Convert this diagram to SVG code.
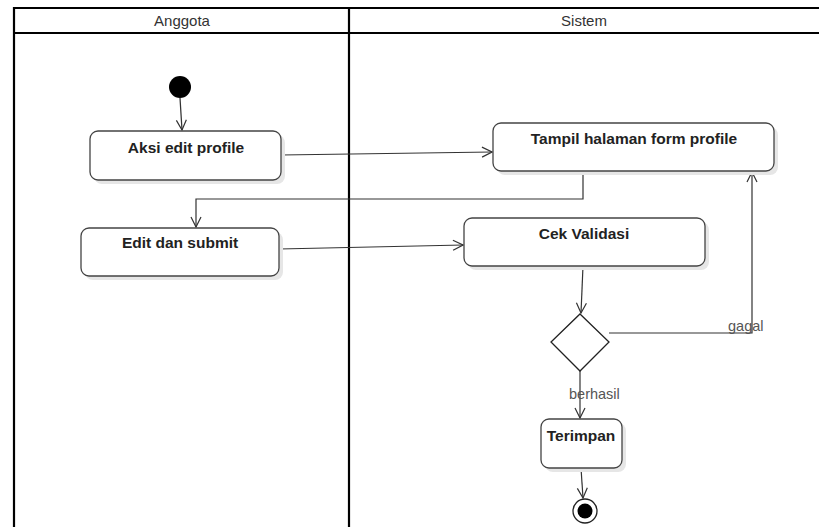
<svg xmlns="http://www.w3.org/2000/svg" width="819" height="527" viewBox="0 0 819 527">
<style>
.lane{fill:none;stroke:#000;stroke-width:2.2}
.hdr{font-family:"Liberation Sans",Arial,sans-serif;font-size:15px;fill:#333;text-anchor:middle}
.box{fill:#fff;stroke:#444;stroke-width:1.3}
.shd{fill:#e6e6e6}
.lbl{font-family:"Liberation Sans",Arial,sans-serif;font-size:15.5px;font-weight:bold;fill:#222;text-anchor:middle}
.edge{fill:none;stroke:#333;stroke-width:1.2}
.elbl{font-family:"Liberation Sans",Arial,sans-serif;font-size:14.5px;fill:#555}
</style>
<defs>
<marker id="arr" viewBox="0 0 12 12" refX="11" refY="6" markerWidth="12" markerHeight="12" markerUnits="userSpaceOnUse" orient="auto">
<path d="M1,1 L11,6 L1,11" fill="none" stroke="#333" stroke-width="1.2"/>
</marker>
</defs>
<rect width="819" height="527" fill="#fff"/>
<g id="lanes">
<path class="lane" d="M14,527 L14,8 L819,8 M14,33 L819,33 M349,8 L349,527"/>
<text class="hdr" x="182" y="26">Anggota</text>
<text class="hdr" x="584" y="26">Sistem</text>
</g>
<g id="connectors">
<path class="edge" d="M180,98 L182,130" marker-end="url(#arr)"/>
<path class="edge" d="M281,155 L492,152" marker-end="url(#arr)"/>
<path class="edge" d="M583,171 L583,199 L196,199 L196,227" marker-end="url(#arr)"/>
<path class="edge" d="M279,249 L463,245" marker-end="url(#arr)"/>
<path class="edge" d="M583,266 L581,313" marker-end="url(#arr)"/>
<path class="edge" d="M609,333 L752,333 L752,172" marker-end="url(#arr)"/>
<path class="edge" d="M580,371 L580,418" marker-end="url(#arr)"/>
<path class="edge" d="M581,468 L583,498" marker-end="url(#arr)"/>
<text class="elbl" x="728" y="331">gagal</text>
<text class="elbl" x="569" y="399">berhasil</text>
</g>
<g id="start">
<circle cx="180" cy="87" r="11" fill="#000"/>
</g>
<g id="aksi">
<rect class="shd" x="94" y="135" width="191" height="49" rx="8"/>
<rect class="box" x="90" y="131" width="191" height="49" rx="8"/>
<text class="lbl" x="186" y="153">Aksi edit profile</text>
</g>
<g id="tampil">
<rect class="shd" x="497" y="127" width="281" height="48" rx="8"/>
<rect class="box" x="493" y="123" width="281" height="48" rx="8"/>
<text class="lbl" x="634" y="144">Tampil halaman form profile</text>
</g>
<g id="edit">
<rect class="shd" x="85" y="232" width="198" height="48" rx="8"/>
<rect class="box" x="81" y="228" width="198" height="48" rx="8"/>
<text class="lbl" x="180" y="248">Edit dan submit</text>
</g>
<g id="cek">
<rect class="shd" x="468" y="222" width="241" height="48" rx="8"/>
<rect class="box" x="464" y="218" width="241" height="48" rx="8"/>
<text class="lbl" x="584" y="239">Cek Validasi</text>
</g>
<g id="decision">
<path d="M580,314 L609,342 L580,371 L551,342 Z" fill="#fff" stroke="#222" stroke-width="1.3"/>
</g>
<g id="terimpan">
<rect class="shd" x="545" y="423" width="81" height="49" rx="8"/>
<rect class="box" x="541" y="419" width="81" height="49" rx="8"/>
<text class="lbl" x="581" y="441">Terimpan</text>
</g>
<g id="end">
<circle cx="585" cy="511" r="12" fill="#fff" stroke="#222" stroke-width="1.3"/>
<circle cx="585" cy="511" r="7.5" fill="#000"/>
</g>
</svg>
